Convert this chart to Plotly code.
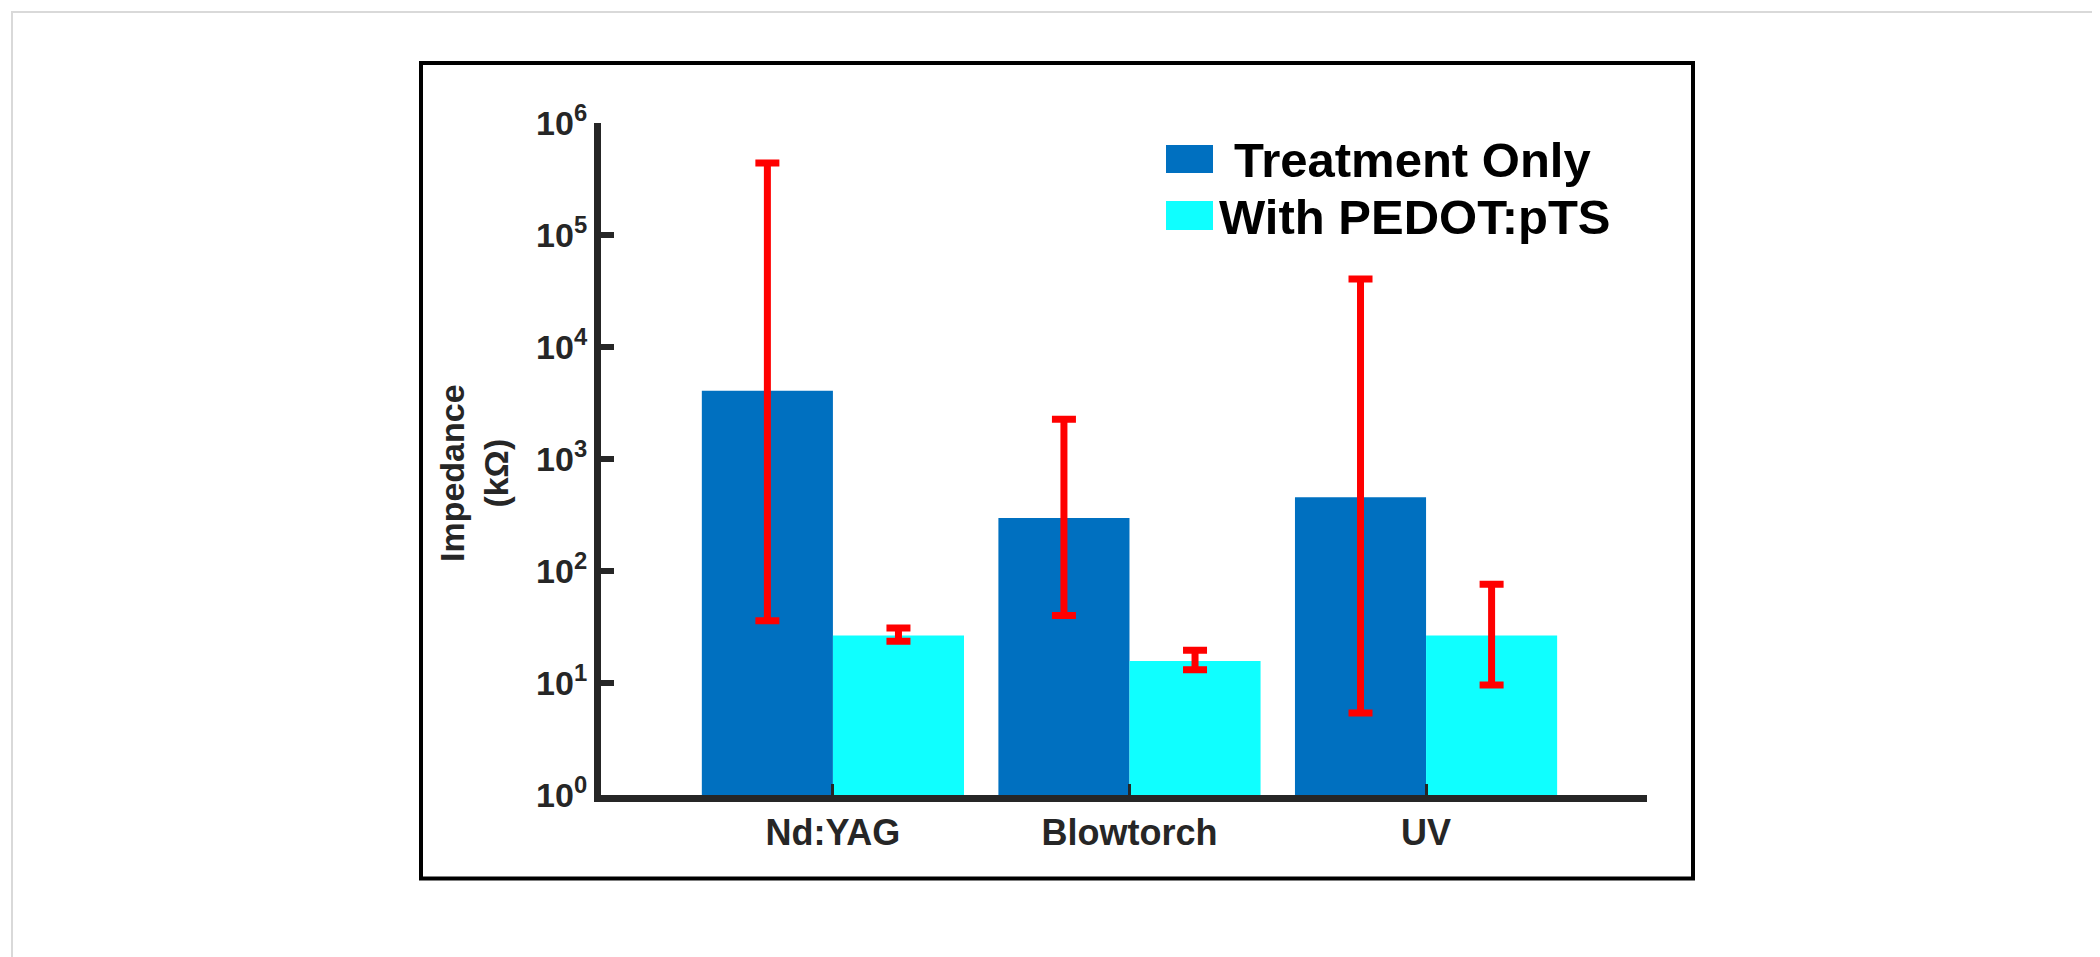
import plotly.graph_objects as go

categories = ["Nd:YAG", "Blowtorch", "UV"]
series_names = ["Treatment Only", "With PEDOT:pTS"]

treatment_only = [4070, 297, 455]
treatment_only_upper = [440000, 2270, 40500]
treatment_only_lower = [36, 40, 5.4]

with_pedot = [26.5, 15.7, 26.5]
with_pedot_upper = [31, 19.6, 76]
with_pedot_lower = [23.6, 13.1, 9.6]

y_tick_powers = [0, 1, 2, 3, 4, 5, 6]

DARK = "#0070C0"
CYAN = "#0FFFFF"
RED = "#FF0000"
AXIS = "#262626"
FONT = "Liberation Sans, Arial, sans-serif"

W, H = 2100, 957
L, R, T, B = 593, 461, 115, 170
PW, PH = W - L - R, H - T - B


def px_x(px):
    return (px - L) / PW


def px_y(py):
    return (H - B - py) / PH


def err_plus(vals, up):
    return [u - v for u, v in zip(up, vals)]


def err_minus(vals, lo):
    return [v - l for l, v in zip(lo, vals)]


fig = go.Figure()
for name, vals, up, lo, col in [
    (series_names[0], treatment_only, treatment_only_upper, treatment_only_lower, DARK),
    (series_names[1], with_pedot, with_pedot_upper, with_pedot_lower, CYAN),
]:
    fig.add_trace(go.Bar(
        x=categories, y=vals, name=name,
        marker=dict(color=col, line=dict(width=0)),
        error_y=dict(type="data", symmetric=False,
                     array=err_plus(vals, up), arrayminus=err_minus(vals, lo),
                     color=RED, thickness=7, width=12),
        showlegend=False,
    ))

fig.update_layout(
    width=W, height=H,
    margin=dict(l=L, r=R, t=T, b=B, autoexpand=False),
    paper_bgcolor="white", plot_bgcolor="white",
    barmode="group", bargap=0.116, bargroupgap=0,
    font=dict(family=FONT, color=AXIS),
)

fig.update_xaxes(
    type="category", range=[-0.782, 2.745],
    showline=True, linecolor=AXIS, linewidth=7,
    ticks="inside", ticklen=11, tickwidth=3, tickcolor=AXIS,
    tickfont=dict(family=FONT, size=36, color=AXIS, weight="bold"),
    showgrid=False, zeroline=False,
)
fig.update_yaxes(
    type="log", range=[0, 6],
    tickvals=[10 ** p for p in y_tick_powers],
    ticktext=[f"10<sup>{p}</sup>" for p in y_tick_powers],
    showline=True, linecolor=AXIS, linewidth=7,
    ticks="inside", ticklen=13, tickwidth=6, tickcolor=AXIS,
    tickfont=dict(family=FONT, size=34, color=AXIS, weight="bold"),
    showgrid=False, zeroline=False,
)

# y-axis title
fig.add_annotation(
    xref="paper", yref="paper", x=px_x(466), y=px_y(465),
    text="Impedance<br>(kΩ)", textangle=-90, showarrow=False,
    xanchor="center", yanchor="middle",
    font=dict(family=FONT, size=34, color=AXIS, weight="bold"),
)

# legend (drawn boxes + labels)
legend_rows = [
    (series_names[0], DARK, 137, 165, 1224, 152),
    (series_names[1], CYAN, 193, 222, 1209, 209),
]
for name, col, y0, y1, tx, ty in legend_rows:
    fig.add_shape(type="rect", xref="paper", yref="paper",
                  x0=px_x(1158), x1=px_x(1205), y0=px_y(y1), y1=px_y(y0),
                  fillcolor=col, line=dict(width=0))
    fig.add_annotation(xref="paper", yref="paper", x=px_x(tx), y=px_y(ty),
                       text=name, showarrow=False, xanchor="left", yanchor="middle",
                       font=dict(family=FONT, size=49, color="black", weight="bold"))

# figure frame
fig.add_shape(type="rect", xref="paper", yref="paper",
              x0=px_x(413), x1=px_x(1685), y0=px_y(870.5), y1=px_y(55),
              line=dict(color="black", width=4), fillcolor="rgba(0,0,0,0)", layer="below")
# outer light border
fig.add_shape(type="rect", xref="paper", yref="paper",
              x0=px_x(4), x1=px_x(2096), y0=px_y(953), y1=px_y(4),
              line=dict(color="#D9D9D9", width=2), fillcolor="rgba(0,0,0,0)", layer="below")

fig.write_html("out.html")
